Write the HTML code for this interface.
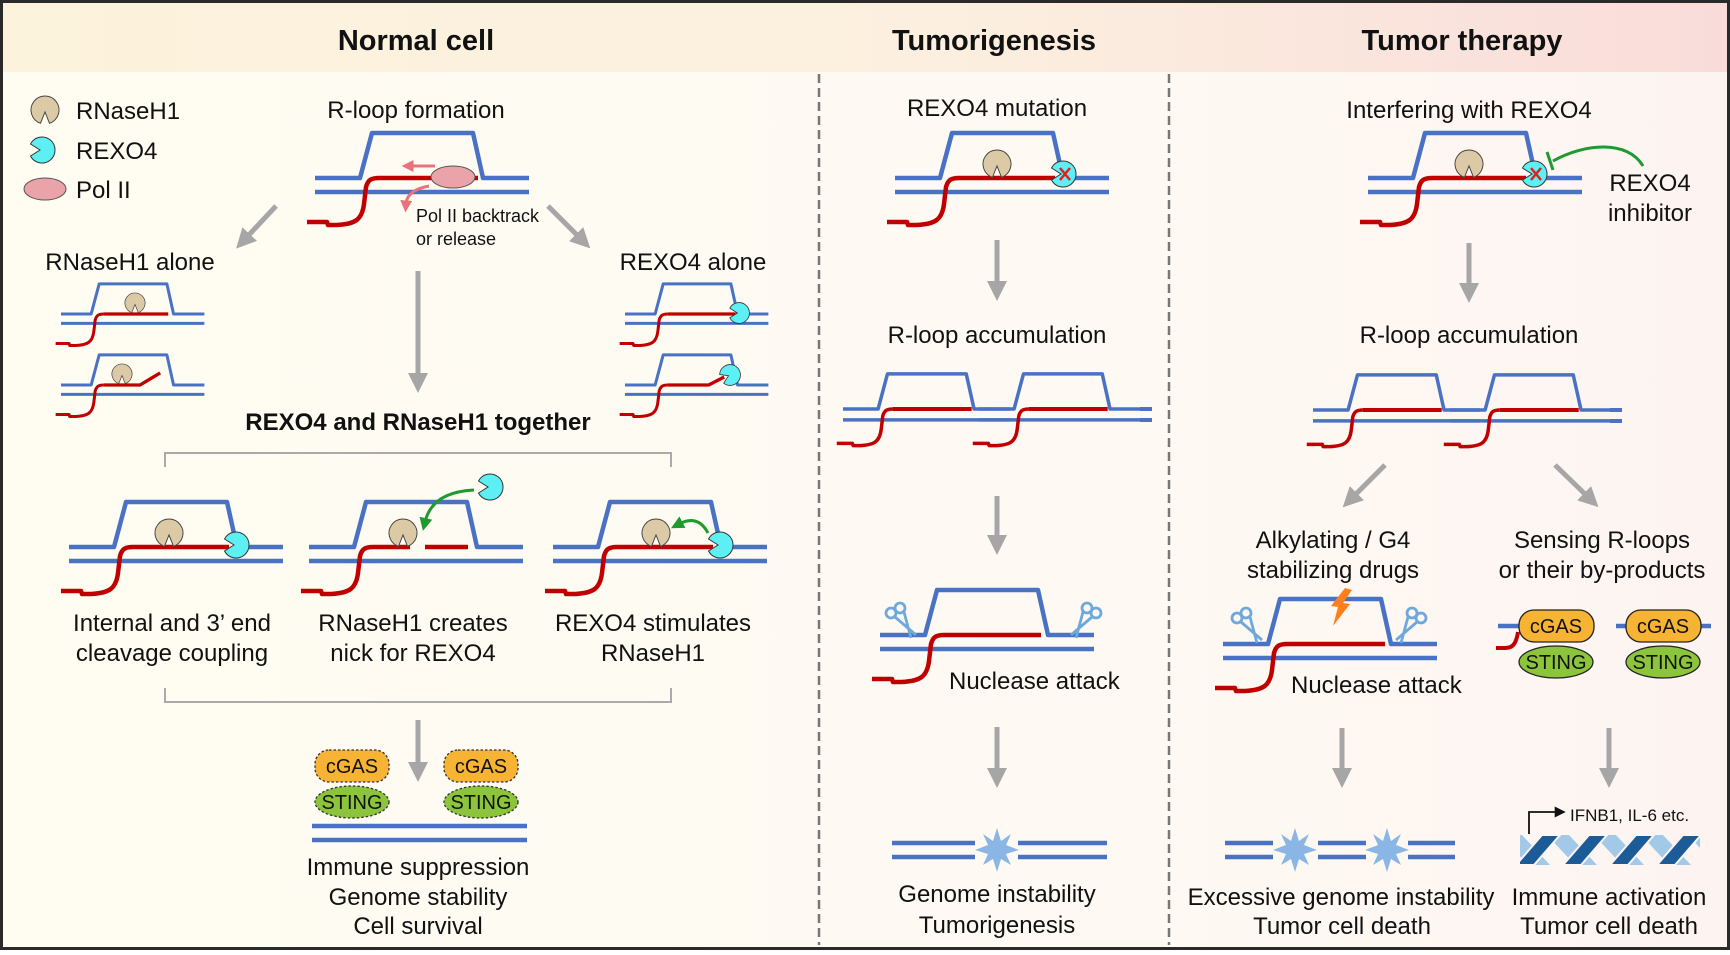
<!DOCTYPE html>
<html><head><meta charset="utf-8"><style>
html,body{margin:0;padding:0;}
body{width:1730px;height:950px;overflow:hidden;}
text{font-family:"Liberation Sans",sans-serif;fill:#111;}
</style></head><body>
<svg width="1730" height="950" viewBox="0 0 1730 950" xmlns="http://www.w3.org/2000/svg">
<defs>
<linearGradient id="hg" x1="0" x2="1" y1="0" y2="0">
<stop offset="0" stop-color="#fcf3dc"/><stop offset="0.55" stop-color="#fcefdf"/><stop offset="1" stop-color="#f9dcda"/></linearGradient>
<linearGradient id="bg" x1="0" x2="1" y1="0" y2="0">
<stop offset="0" stop-color="#fffcf2"/><stop offset="0.6" stop-color="#fefaf3"/><stop offset="1" stop-color="#fdf4f2"/></linearGradient>
<marker id="ga" viewBox="0 0 10 10" refX="2" refY="5" markerWidth="20" markerHeight="20" markerUnits="userSpaceOnUse" orient="auto"><path d="M0,0 L10,5 L0,10 z" fill="#a6a6a6"/></marker>
<marker id="gr" viewBox="0 0 10 10" refX="3" refY="5" markerWidth="13" markerHeight="13" markerUnits="userSpaceOnUse" orient="auto"><path d="M0,0 L10,5 L0,10 z" fill="#1f9a2e"/></marker>
<marker id="pk" viewBox="0 0 10 10" refX="3" refY="5" markerWidth="12" markerHeight="12" markerUnits="userSpaceOnUse" orient="auto"><path d="M0,0 L10,5 L0,10 z" fill="#e8737c"/></marker>
<marker id="bk" viewBox="0 0 10 10" refX="3" refY="5" markerWidth="11" markerHeight="11" markerUnits="userSpaceOnUse" orient="auto"><path d="M0,0 L10,5 L0,10 z" fill="#111"/></marker>
<g id="blue" fill="none" stroke="#4a72c4" stroke-width="4.5" stroke-linejoin="round">
<path d="M0,0 H45 L57,-45 H158 L168,0 H214"/><path d="M0,14 H214"/></g>
<path id="redtail" fill="none" stroke="#c00000" stroke-width="4.5" stroke-linejoin="round" d="M-8,44 L12,44 L13,47 L22,47 C40,46 47,42 49,26 L51,9 C53,2 56,0 64,0"/>
<g id="rnase"><path d="M-4.5,13.3 A14,14 0 1 1 4.5,13.3 L0,2 Z" fill="#dcc9a6" stroke="#444" stroke-width="1"/></g>
<g id="rexo"><path d="M-11.5,-6 A13,13 0 1 1 -11.5,6 L-2,0 Z" fill="#5cf0f5" stroke="#333" stroke-width="1"/></g>
<g id="xmark" stroke="#e02020" stroke-width="2.5"><path d="M-4,-6 L6,6 M6,-6 L-4,6"/></g>
<g id="sc" fill="none" stroke="#6fa8dc" stroke-width="2.8">
<circle cx="-11" cy="-12" r="5"/><circle cx="-2" cy="-17" r="5"/><path d="M-7,-8 L14,10 M2,-13 L9,13"/></g>
<g id="star"><polygon fill="#8ab6e6" points="0,-22 4,-9 14,-16 9,-5 22,0 9,4 14,15 4,9 0,22 -4,9 -14,15 -9,4 -22,0 -9,-5 -14,-16 -4,-9"/></g>
</defs>
<rect x="0" y="0" width="1730" height="950" fill="url(#bg)"/>
<rect x="0" y="0" width="1730" height="72" fill="url(#hg)"/>
<rect x="1.5" y="1.5" width="1727" height="947" fill="none" stroke="#2a2a2a" stroke-width="3"/>
<g stroke="#777" stroke-width="2.5" stroke-dasharray="9 5"><path d="M819,74 V945"/><path d="M1169,74 V945"/></g>
<g font-weight="bold" font-size="29" text-anchor="middle">
<text x="416" y="50">Normal cell</text><text x="994" y="50">Tumorigenesis</text><text x="1462" y="50">Tumor therapy</text></g>

<use href="#rnase" x="45" y="110"/><use href="#rexo" x="42" y="150"/>
<ellipse cx="45" cy="189" rx="21" ry="11" fill="#eba3aa" stroke="#555" stroke-width="1"/>
<g font-size="24"><text x="76" y="119">RNaseH1</text><text x="76" y="159">REXO4</text><text x="76" y="198">Pol II</text></g>

<g font-size="24" text-anchor="middle">
<text x="416" y="118">R-loop formation</text>
<text x="130" y="270">RNaseH1 alone</text>
<text x="693" y="270">REXO4 alone</text>
<text x="997" y="116">REXO4 mutation</text>
<text x="997" y="343">R-loop accumulation</text>
<text x="1469" y="118">Interfering with REXO4</text>
<text x="1469" y="343">R-loop accumulation</text>
<text x="1650" y="191">REXO4</text><text x="1650" y="221">inhibitor</text>
<text x="172" y="631">Internal and 3’ end</text><text x="172" y="661">cleavage coupling</text>
<text x="413" y="631">RNaseH1 creates</text><text x="413" y="661">nick for REXO4</text>
<text x="653" y="631">REXO4 stimulates</text><text x="653" y="661">RNaseH1</text>
<text x="418" y="875">Immune suppression</text><text x="418" y="905">Genome stability</text><text x="418" y="934">Cell survival</text>
<text x="997" y="902">Genome instability</text><text x="997" y="933">Tumorigenesis</text>
<text x="1333" y="548">Alkylating / G4</text><text x="1333" y="578">stabilizing drugs</text>
<text x="1602" y="548">Sensing R-loops</text><text x="1602" y="578">or their by-products</text>
<text x="1341" y="905">Excessive genome instability</text><text x="1342" y="934">Tumor cell death</text>
<text x="1609" y="905">Immune activation</text><text x="1609" y="934">Tumor cell death</text>
</g>
<text x="418" y="430" font-size="24" font-weight="bold" text-anchor="middle">REXO4 and RNaseH1 together</text>
<text x="949" y="689" font-size="24">Nuclease attack</text>
<text x="1291" y="693" font-size="24">Nuclease attack</text>
<g font-size="18"><text x="416" y="222">Pol II backtrack</text><text x="416" y="245">or release</text></g>
<text x="1570" y="821" font-size="17">IFNB1, IL-6 etc.</text>

<g transform="translate(315,178)"><use href="#blue"/><use href="#redtail"/><path d="M64,0 H163" stroke="#c00000" stroke-width="4.5"/></g>
<ellipse cx="453" cy="177" rx="22" ry="11" fill="#eba3aa" stroke="#555" stroke-width="1"/>
<path d="M435,166 H410" stroke="#e8737c" stroke-width="3" marker-end="url(#pk)"/>
<path d="M429,186 Q407,190 406,204" fill="none" stroke="#e8737c" stroke-width="3" marker-end="url(#pk)"/>

<g transform="translate(61,314) scale(0.67)"><use href="#blue"/><use href="#redtail"/><path d="M64,0 H160" stroke="#c00000" stroke-width="5"/></g>
<use href="#rnase" transform="translate(135,303) scale(0.72)"/>
<g transform="translate(61,385) scale(0.67)"><use href="#blue"/><use href="#redtail"/><path d="M64,0 H118 L148,-18" fill="none" stroke="#c00000" stroke-width="5"/></g>
<use href="#rnase" transform="translate(122,374) scale(0.72)"/>
<g transform="translate(625,314) scale(0.67)"><use href="#blue"/><use href="#redtail"/><path d="M64,0 H165" stroke="#c00000" stroke-width="5"/></g>
<use href="#rexo" transform="translate(739,313) scale(0.8)"/>
<g transform="translate(625,385) scale(0.67)"><use href="#blue"/><use href="#redtail"/><path d="M64,0 H125 L148,-12" fill="none" stroke="#c00000" stroke-width="5"/></g>
<use href="#rexo" transform="translate(730,375) scale(0.8) rotate(-25)"/>

<g stroke="#a6a6a6" stroke-width="5" marker-end="url(#ga)" fill="none">
<path d="M276,206 L247,237"/><path d="M548,206 L579,237"/>
<path d="M418,271 V377"/><path d="M418,720 V766"/>
<path d="M997,240 V285"/><path d="M997,496 V539"/><path d="M997,727 V772"/>
<path d="M1469,243 V287"/><path d="M1385,465 L1354,496"/><path d="M1555,465 L1587,496"/>
<path d="M1342,728 V772"/><path d="M1609,728 V772"/>
</g>

<g fill="none" stroke="#aaa" stroke-width="2"><path d="M165,467 V453 H671 V467"/><path d="M165,688 V702 H671 V688"/></g>

<g transform="translate(69,547)"><use href="#blue"/><use href="#redtail"/><path d="M64,0 H160" stroke="#c00000" stroke-width="4.5"/></g>
<use href="#rnase" x="169" y="533"/><use href="#rexo" x="236" y="545"/>
<g transform="translate(309,547)"><use href="#blue"/><use href="#redtail"/><path d="M64,0 H101 M116,0 H159" stroke="#c00000" stroke-width="4.5"/></g>
<use href="#rnase" x="403" y="533"/><use href="#rexo" x="490" y="487"/>
<path d="M474,490 Q432,492 425,522" fill="none" stroke="#1f9a2e" stroke-width="3" marker-end="url(#gr)"/>
<g transform="translate(553,547)"><use href="#blue"/><use href="#redtail"/><path d="M64,0 H160" stroke="#c00000" stroke-width="4.5"/></g>
<use href="#rnase" x="656" y="533"/><use href="#rexo" x="720" y="545"/>
<path d="M708,533 Q698,514 679,524" fill="none" stroke="#1f9a2e" stroke-width="3" marker-end="url(#gr)"/>

<g stroke="#333" stroke-width="1.3" stroke-dasharray="2.5 2">
<rect x="315" y="750" width="74" height="32" rx="14" fill="#f7b334"/>
<rect x="444" y="750" width="74" height="32" rx="14" fill="#f7b334"/>
<ellipse cx="352" cy="802" rx="37" ry="16" fill="#8cc43c"/>
<ellipse cx="481" cy="802" rx="37" ry="16" fill="#8cc43c"/></g>
<g font-size="20" text-anchor="middle"><text x="352" y="773">cGAS</text><text x="481" y="773">cGAS</text><text x="352" y="809">STING</text><text x="481" y="809">STING</text></g>
<g stroke="#4a72c4" stroke-width="4.5"><path d="M312,826 H527 M312,840 H527"/></g>

<g transform="translate(895,178)"><use href="#blue"/><use href="#redtail"/><path d="M64,0 H160" stroke="#c00000" stroke-width="4.5"/></g>
<use href="#rnase" x="997" y="164"/><use href="#rexo" x="1063" y="174"/><use href="#xmark" x="1064" y="174"/>
<g transform="translate(843,409) scale(0.78)"><use href="#blue"/><use href="#redtail"/><path d="M64,0 H165" stroke="#c00000" stroke-width="5"/></g>
<g transform="translate(979,409) scale(0.78)"><use href="#blue"/><use href="#redtail"/><path d="M64,0 H165" stroke="#c00000" stroke-width="5"/></g>
<path d="M1140,409 H1152 M1140,420 H1152" stroke="#4a72c4" stroke-width="4"/>
<g transform="translate(880,635)"><use href="#blue"/><use href="#redtail"/><path d="M64,0 H161" stroke="#c00000" stroke-width="4.5"/></g>
<use href="#sc" x="902" y="625"/><use href="#sc" transform="translate(1085,625) scale(-1,1)"/>
<g stroke="#4a72c4" stroke-width="4.5"><path d="M892,843 H975 M892,857 H975 M1018,843 H1107 M1018,857 H1107"/></g>
<use href="#star" x="997" y="850"/>

<g transform="translate(1368,178)"><use href="#blue"/><use href="#redtail"/><path d="M64,0 H158" stroke="#c00000" stroke-width="4.5"/></g>
<use href="#rnase" x="1469" y="164"/><use href="#rexo" x="1534" y="174"/><use href="#xmark" x="1535" y="174"/>
<path d="M1643,166 C1628,140 1585,143 1553,161" fill="none" stroke="#1f9a2e" stroke-width="3"/>
<path d="M1547,152 L1553,170" stroke="#1f9a2e" stroke-width="3"/>
<g transform="translate(1313,410) scale(0.78)"><use href="#blue"/><use href="#redtail"/><path d="M64,0 H165" stroke="#c00000" stroke-width="5"/></g>
<g transform="translate(1450,410) scale(0.78)"><use href="#blue"/><use href="#redtail"/><path d="M64,0 H165" stroke="#c00000" stroke-width="5"/></g>
<path d="M1610,410 H1622 M1610,421 H1622" stroke="#4a72c4" stroke-width="4"/>
<g transform="translate(1223,644)"><use href="#blue"/><use href="#redtail"/><path d="M64,0 H162" stroke="#c00000" stroke-width="4.5"/></g>
<use href="#sc" x="1248" y="630"/><use href="#sc" transform="translate(1410,630) scale(-1,1)"/>
<polygon points="1345,588 1352,590 1343,603 1350,604 1333,626 1338,607 1331,606" fill="#ff7f1a"/>

<g stroke="#4a72c4" stroke-width="4.5"><path d="M1498,626 H1520 M1616,626 H1711"/></g>
<path d="M1518,632 C1516,645 1512,648 1505,648 L1496,648" fill="none" stroke="#c00000" stroke-width="4"/>
<g stroke="#222" stroke-width="1.3">
<rect x="1519" y="610" width="75" height="32" rx="15" fill="#f7b334"/>
<rect x="1626" y="610" width="75" height="32" rx="15" fill="#f7b334"/>
<ellipse cx="1556" cy="662" rx="37" ry="16" fill="#8cc43c"/>
<ellipse cx="1663" cy="662" rx="37" ry="16" fill="#8cc43c"/></g>
<g font-size="20" text-anchor="middle"><text x="1556" y="633">cGAS</text><text x="1663" y="633">cGAS</text><text x="1556" y="669">STING</text><text x="1663" y="669">STING</text></g>

<g stroke="#4a72c4" stroke-width="4.5"><path d="M1225,843 H1273 M1225,857 H1273 M1318,843 H1366 M1318,857 H1366 M1408,843 H1455 M1408,857 H1455"/></g>
<use href="#star" x="1295" y="850"/><use href="#star" x="1387" y="850"/>

<clipPath id="hc"><rect x="1520" y="835" width="180" height="30"/></clipPath>
<g clip-path="url(#hc)">
<g fill="#a3c9e8"><polygon points="1500,835 1522,835 1550,865 1528,865"/><polygon points="1547,835 1569,835 1597,865 1575,865"/><polygon points="1594,835 1616,835 1644,865 1622,865"/><polygon points="1641,835 1663,835 1691,865 1669,865"/><polygon points="1688,835 1710,835 1738,865 1716,865"/></g>
<g fill="#1b5c98" stroke="#fdf4f2" stroke-width="2"><polygon points="1516,865 1534,865 1560,835 1542,835"/><polygon points="1563,865 1581,865 1607,835 1589,835"/><polygon points="1610,865 1628,865 1654,835 1636,835"/><polygon points="1657,865 1675,865 1701,835 1683,835"/><polygon points="1704,865 1722,865 1748,835 1730,835"/></g>
</g>
<path d="M1529,834 V812 H1558" fill="none" stroke="#111" stroke-width="1.8" marker-end="url(#bk)"/>
</svg>
</body></html>
